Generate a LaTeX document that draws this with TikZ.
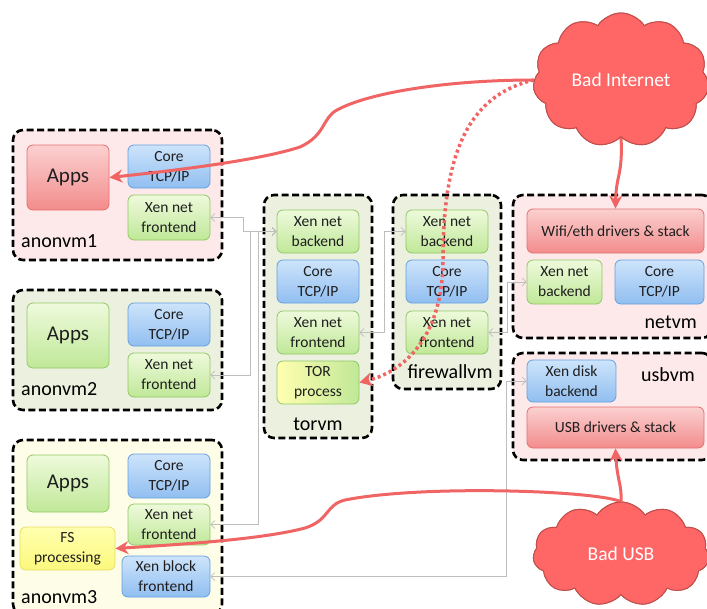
\documentclass[tikz,border=0pt]{standalone}
\usepackage{fontspec}
\setmainfont{Carlito}
\usetikzlibrary{shapes.symbols,arrows.meta,calc}
\definecolor{vmpinkc}{RGB}{253,233,233}
\definecolor{vmgreenc}{RGB}{235,241,222}
\definecolor{vmyellowc}{RGB}{254,254,232}
\definecolor{redt}{RGB}{251,208,208}
\definecolor{redb}{RGB}{243,140,140}
\definecolor{redd}{RGB}{228,112,112}
\definecolor{bluet}{RGB}{205,228,251}
\definecolor{blueb}{RGB}{145,190,240}
\definecolor{blued}{RGB}{100,160,222}
\definecolor{greent}{RGB}{238,250,220}
\definecolor{greenb}{RGB}{192,232,152}
\definecolor{greend}{RGB}{145,200,100}
\definecolor{yelt}{RGB}{255,255,175}
\definecolor{yelb}{RGB}{252,248,125}
\definecolor{yeld}{RGB}{232,222,100}
\definecolor{txt}{RGB}{30,30,30}
\definecolor{grayc}{RGB}{190,190,190}
\definecolor{redline}{RGB}{240,100,100}
\definecolor{cloudf}{RGB}{255,102,102}
\definecolor{cloudd}{RGB}{192,80,77}
\tikzset{
  vm/.style={draw=black, line width=2.6pt, dash pattern=on 7pt off 3.5pt, rounded corners=10pt, inner sep=0pt},
  vmpink/.style={vm, fill=vmpinkc},
  vmgreen/.style={vm, fill=vmgreenc},
  vmyellow/.style={vm, fill=vmyellowc},
  bx/.style={rounded corners=6pt, inner sep=1pt, align=center, text=txt, font=\fontsize{15.5}{20}\selectfont, line width=0.8pt},
  bxred/.style={bx, draw=redd, top color=redt, bottom color=redb},
  bxblue/.style={bx, draw=blued, top color=bluet, bottom color=blueb},
  bxgreen/.style={bx, draw=greend, top color=greent, bottom color=greenb},
  bxyellow/.style={bx, draw=yeld, top color=yelt, bottom color=yelb},
  bxtor/.style={bx, draw=greend, left color=yelt, right color=greenb},
  apps/.style={font=\fontsize{21}{24}\selectfont},
  vmlabel/.style={font=\fontsize{20}{24}\selectfont, text=black, inner sep=0pt},
  gline/.style={draw=grayc, line width=0.7pt, {Straight Barb[length=4pt,width=8pt]}-{Straight Barb[length=4pt,width=8pt]}},
  rline/.style={draw=redline, line width=3pt, -{Stealth[length=13pt,width=13pt]}},
  rdots/.style={draw=redline, line width=3.5pt, dash pattern=on 3pt off 3pt, -{Stealth[length=13pt,width=14pt]}},
  cloudn/.style={cloud, cloud puffs=11, cloud puff arc=115, cloud ignores aspect, draw=cloudd, line width=1pt, fill=cloudf, text=white, font=\fontsize{19.5}{22}\selectfont, inner sep=0pt}
}
\begin{document}
\begin{tikzpicture}[x=1pt,y=-1pt]
\useasboundingbox (0,0) rectangle (707,608);
% containers
\node[vmpink, minimum width=209pt, minimum height=130pt] (anonvm1) at (117.5,195) {};
\node[vmgreen, minimum width=209pt, minimum height=120pt] (anonvm2) at (117.5,350) {};
\node[vmyellow, minimum width=209pt, minimum height=174pt] (anonvm3) at (117.5,527) {};
\node[vmgreen, minimum width=108pt, minimum height=243pt] (torvm) at (318,316.5) {};
\node[vmgreen, minimum width=108pt, minimum height=194pt] (firewallvm) at (447,292) {};
\node[vmpink, minimum width=199pt, minimum height=143pt] (netvm) at (612.5,266.5) {};
\node[vmpink, minimum width=199pt, minimum height=107pt] (usbvm) at (612.5,406.5) {};
% labels
\node[vmlabel, anchor=base west] (l1) at (21,247) {anonvm1};
\node[vmlabel, anchor=base west] (l2) at (21,395) {anonvm2};
\node[vmlabel, anchor=base west] (l3) at (21,603) {anonvm3};
\node[vmlabel, anchor=base] (l4) at (318,430) {torvm};
\node[vmlabel, anchor=base] (l5) at (450,378) {firewallvm};
\node[vmlabel, anchor=base east] (l6) at (697,328) {netvm};
\node[vmlabel, anchor=base east] (l7) at (695,381) {usbvm};
% anonvm1
\node[bxred, apps, minimum width=82pt, minimum height=65pt] (a1apps) at (68,177.5) {Apps};
\node[bxblue, minimum width=82pt, minimum height=43pt] (a1core) at (169,166.5) {Core\\TCP/IP};
\node[bxgreen, minimum width=82pt, minimum height=45pt] (a1f) at (169,217.5) {Xen net\\frontend};
% anonvm2
\node[bxgreen, apps, minimum width=82pt, minimum height=65pt] (a2apps) at (68,335.5) {Apps};
\node[bxblue, minimum width=82pt, minimum height=43pt] (a2core) at (169,324.5) {Core\\TCP/IP};
\node[bxgreen, minimum width=82pt, minimum height=44pt] (a2f) at (169,375) {Xen net\\frontend};
% anonvm3
\node[bxgreen, apps, minimum width=82pt, minimum height=57pt] (a3apps) at (68,483.5) {Apps};
\node[bxblue, minimum width=82pt, minimum height=44pt] (a3core) at (169,476) {Core\\TCP/IP};
\node[bxgreen, minimum width=82pt, minimum height=41pt] (a3f) at (169,524.5) {Xen net\\frontend};
\node[bxyellow, minimum width=95pt, minimum height=43pt] (fs) at (67.5,548.5) {FS\\processing};
\node[bxblue, minimum width=88pt, minimum height=41pt] (a3b) at (166,576.5) {Xen block\\frontend};
% torvm
\node[bxgreen, minimum width=82pt, minimum height=43pt] (tb) at (318,231.5) {Xen net\\backend};
\node[bxblue, minimum width=82pt, minimum height=43pt] (tc) at (318,281.5) {Core\\TCP/IP};
\node[bxgreen, minimum width=82pt, minimum height=43pt] (tf) at (318,332.5) {Xen net\\frontend};
\node[bxtor, minimum width=82pt, minimum height=43pt] (tor) at (318,382.5) {TOR\\process};
% firewallvm
\node[bxgreen, minimum width=82pt, minimum height=43pt] (fb) at (447,231.5) {Xen net\\backend};
\node[bxblue, minimum width=82pt, minimum height=43pt] (fc) at (447,281.5) {Core\\TCP/IP};
\node[bxgreen, minimum width=82pt, minimum height=43pt] (ff) at (447,332.5) {Xen net\\frontend};
% netvm
\node[bxred, minimum width=177pt, minimum height=44pt] (wifi) at (615.5,231) {Wifi/eth drivers \& stack};
\node[bxgreen, minimum width=75pt, minimum height=44pt] (nb) at (564.5,282) {Xen net\\backend};
\node[bxblue, minimum width=89pt, minimum height=44pt] (nc) at (659.5,282) {Core\\TCP/IP};
% usbvm
\node[bxblue, minimum width=89pt, minimum height=42pt] (ud) at (571.5,381) {Xen disk\\backend};
\node[bxred, minimum width=177pt, minimum height=41pt] (usb) at (615.5,427.5) {USB drivers \& stack};
% gray connectors
\draw[gline] (a1f.east) -- ($(a1f.east)+(33,0)$) |- (tb.west);
\draw[gline] (a2f.east) -- ($(a2f.east)+(40,0)$) |- (tb.west);
\draw[gline] (a3f.east) -- ($(a3f.east)+(48,0)$) |- (tb.west);
\draw[gline] (a3b.east) -- ($(a3b.east)+(296,0)$) |- (ud.west);
\draw[gline] (tf.east) -- ($(tf.east)+(25,0)$) |- (fb.west);
\draw[gline] (ff.east) -- ($(ff.east)+(19,0)$) |- (nb.west);
% clouds (anchors)
\node[cloudn, minimum width=176pt, minimum height=134pt] (bi) at (621,80) {};
\node[cloudn, minimum width=176pt, minimum height=104pt] (bu) at (621,554) {};
% red connectors
\draw[rline] (bi.west) .. controls (450,80) and (370,92) .. (337,110) .. controls (322,118) and (326,135) .. (300,147) .. controls (260,160) and (180,170) .. (a1apps.east);
\draw[rdots] (bi.west) .. controls (470,95) and (443,150) .. (443,260) .. controls (443,330) and (410,370) .. (tor.east);
\draw[rline] (bi.south) .. controls (623,175) and (616,175) .. (wifi.north);
\draw[rline] (bu.north) .. controls (622,485) and (617,480) .. (usb.south);
\draw[rline] (bu.north) .. controls (590,490) and (420,485) .. (345,500) .. controls (325,505) and (330,520) .. (305,528) .. controls (260,540) and (170,545) .. (fs.east);
% clouds on top
\node[cloudn, minimum width=176pt, minimum height=134pt] (bi2) at (621,80) {Bad Internet};
\node[cloudn, minimum width=176pt, minimum height=104pt] (bu2) at (621,554) {Bad USB};
\end{tikzpicture}
\end{document}
